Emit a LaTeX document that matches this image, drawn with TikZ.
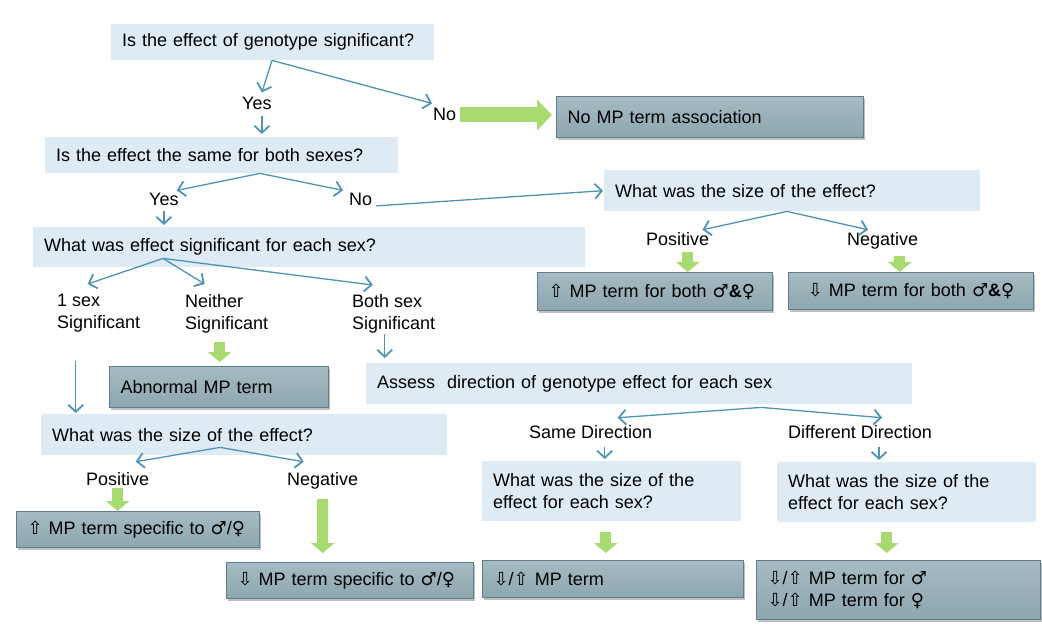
\documentclass[tikz,border=0pt]{standalone}
\usepackage{fontspec}
\setmainfont{Liberation Sans}
\newfontfamily\symfont{DejaVu Sans}
\usetikzlibrary{arrows.meta,positioning,shadows}
\definecolor{qfill}{HTML}{DEEBF5}
\definecolor{atop}{HTML}{A6BBC3}
\definecolor{abot}{HTML}{8DA6AF}
\definecolor{aline}{HTML}{5E7E8B}
\definecolor{flow}{HTML}{4E95B5}
\definecolor{go}{HTML}{A9DA72}
\newcommand{\dfont}{\fontsize{18pt}{22pt}\selectfont}
\newcommand{\upA}{{\symfont ⇧}}
\newcommand{\dnA}{{\symfont ⇩}}
\newcommand{\maleS}{{\symfont ♂}}
\newcommand{\femS}{{\symfont ♀}}
\tikzset{
  >={Straight Barb[length=7pt,width=15pt,line width=1.8pt]},
  box/.style={anchor=north west,inner xsep=11pt,inner ysep=0pt,align=left,font=\dfont},
  qbox/.style={box,fill=qfill},
  abox/.style={box,draw=aline,line width=1.2pt,top color=atop,bottom color=abot,
    drop shadow={shadow xshift=1.5pt,shadow yshift=-2pt,fill=black,opacity=0.25}},
  lab/.style={font=\dfont,align=left,inner sep=1pt},
  arr/.style={->,draw=flow,line width=1.3pt},
  garr/.style={draw=go,line width=11pt,-{Triangle[length=10pt,width=23pt]}},
}

\begin{document}
\begin{tikzpicture}[x=1pt,y=-1pt,
  sz/.style 2 args={text width=#1,minimum height=#2}]
\path[use as bounding box,fill=white] (0,0) rectangle (1042,628);
% questions
\node[qbox,sz={301pt}{36pt}] (q1) at (111,24) {Is the effect of genotype significant?};
\node[qbox,sz={331pt}{36pt}] (q2) at (45,137) {Is the effect the same for both sexes?};
\node[qbox,sz={354pt}{41pt}] (q3) at (604,170) {What was the size of the effect?};
\node[qbox,sz={530pt}{40pt}] (q4) at (33,227) {What was effect significant for each sex?};
\node[qbox,sz={524pt}{41pt}] (as) at (366,363) {Assess~ direction of genotype effect for each sex};
\node[qbox,sz={384pt}{41pt}] (q5) at (41,414) {What was the size of the effect?};
\node[qbox,sz={237pt}{60pt}] (q6) at (482,461) {What was the size of the\\effect for each sex?};
\node[qbox,sz={237pt}{60pt}] (q7) at (777,462) {What was the size of the\\effect for each sex?};
% outcomes
\node[abox,sz={285pt}{41pt}] (nomp) at (556,96) {No MP term association};
\node[abox,sz={213pt}{38pt}] (upb) at (537,272) {\upA\ MP term for both \maleS\textbf{\&}\femS};
\node[abox,sz={223pt}{37pt},align=center] (dnb) at (788,272) {\dnA\ MP term for both \maleS\textbf{\&}\femS};
\node[abox,sz={197pt}{41pt}] (abn) at (109,366) {Abnormal MP term};
\node[abox,sz={221pt}{36pt}] (ups) at (16,511) {\upA\ MP term specific to \maleS/\femS};
\node[abox,sz={225pt}{36pt}] (dns) at (226,562) {\dnA\ MP term specific to \maleS/\femS};
\node[abox,sz={239pt}{37pt}] (mp1) at (482,560) {\dnA/\upA\ MP term};
\node[abox,sz={262pt}{59pt}] (mp2) at (756,560) {\dnA/\upA\ MP term for \maleS\\\dnA/\upA\ MP term for \femS};
% answers
\node[lab,anchor=base west] (yes1) at (241,110) {Yes};
\node[lab,anchor=base west] (no1) at (432,121) {No};
\node[lab,anchor=base west] (yes2) at (148,206) {Yes};
\node[lab,anchor=base west] (no2) at (348,206) {No};
\node[lab,anchor=base west] (pos1) at (645,246) {Positive};
\node[lab,anchor=base west] (neg1) at (846,246) {Negative};
\node[lab,anchor=north west] (one) at (56,293) {1 sex\\Significant};
\node[lab,anchor=north west] (nei) at (184,293) {Neither\\Significant};
\node[lab,anchor=north west] (bth) at (351,293) {Both sex\\Significant};
\node[lab,anchor=base west] (pos2) at (85,485) {Positive};
\node[lab,anchor=base west] (neg2) at (286,485) {Negative};
\node[lab,anchor=base west] (same) at (528,438) {Same Direction};
\node[lab,anchor=base west] (diff) at (787,438) {Different Direction};
% blue flow
\draw[arr] ([xshift=161pt]q1.south west) -- ([xshift=5pt,yshift=4pt]yes1.north);
\draw[arr] ([xshift=161pt]q1.south west) -- ([yshift=4pt]no1.north west);
\draw[arr] ([xshift=5pt,yshift=-5pt]yes1.south) -- ([xshift=5pt,yshift=3pt]yes1.south |- q2.north);
\draw[arr] ([xshift=215pt]q2.south west) -- ([xshift=-3pt,yshift=2pt]yes2.north east);
\draw[arr] ([xshift=215pt]q2.south west) -- ([xshift=-5pt,yshift=2pt]no2.north west);
\draw[arr] ([xshift=3pt,yshift=-6pt]no2.east) -- ([xshift=-1pt]q3.west);
\draw[arr] ([xshift=183pt]q3.south west) -- ([xshift=-8pt,yshift=2pt]pos1.north east);
\draw[arr] ([xshift=183pt]q3.south west) -- ([xshift=22pt,yshift=2pt]neg1.north west);
\draw[arr] ([yshift=-4pt]yes2.south) -- ([yshift=2pt]yes2.south |- q4.north);
\draw[arr] ([xshift=130pt,yshift=9pt]q4.south west) -- ([xshift=-11pt,yshift=9pt]one.north);
\draw[arr] ([xshift=130pt,yshift=9pt]q4.south west) -- ([xshift=-22pt,yshift=9pt]nei.north);
\draw[arr] ([xshift=130pt,yshift=9pt]q4.south west) -- ([xshift=-21pt,yshift=8pt]bth.north);
\draw[arr] ([xshift=-9pt]bth.south) -- ([xshift=-9pt,yshift=5pt]bth.south |- as.north);
\draw[arr] ([xshift=-23pt,yshift=-27pt]one.south) -- ([xshift=-23pt,yshift=1pt]one.south |- q5.north);
\draw[arr] ([xshift=179pt,yshift=8pt]q5.south west) -- ([xshift=18pt,yshift=9pt]pos2.north);
\draw[arr] ([xshift=179pt,yshift=8pt]q5.south west) -- ([xshift=-19pt,yshift=9pt]neg2.north);
\draw[arr] ([xshift=395pt,yshift=-3pt]as.south west) -- ([xshift=27pt,yshift=6pt]same.north);
\draw[arr] ([xshift=395pt,yshift=-3pt]as.south west) -- ([xshift=22pt,yshift=6pt]diff.north);
\draw[arr] ([xshift=14pt,yshift=-8pt]same.south) -- ([xshift=14pt,yshift=2pt]same.south |- q6.north);
\draw[arr] ([xshift=19pt,yshift=-8pt]diff.south) -- ([xshift=19pt,yshift=2pt]diff.south |- q7.north);
% green outcome arrows
\draw[garr,line width=15pt,-{Triangle[length=15pt,width=30pt]}] ([xshift=3pt]no1.east) -- ([xshift=-4pt]no1.east -| nomp.west);
\draw[garr] ([xshift=10pt,yshift=-5pt]pos1.south) -- ([xshift=10pt]pos1.south |- upb.north);
\draw[garr] ([xshift=17pt,yshift=-5pt]neg1.south) -- ([xshift=17pt]neg1.south |- dnb.north);
\draw[garr] ([xshift=-7pt,yshift=-8pt]nei.south) -- ([xshift=-7pt,yshift=4pt]nei.south |- abn.north);
\draw[garr] ([yshift=-2pt]pos2.south) -- (pos2.south |- ups.north);
\draw[garr] ([yshift=-9pt]neg2.south) -- ([yshift=9pt]neg2.south |- dns.north);
\draw[garr] ([xshift=-6pt,yshift=-11pt]q6.south) -- ([xshift=-6pt,yshift=7pt]q6.south |- mp1.north);
\draw[garr] ([xshift=-20pt,yshift=-10pt]q7.south) -- ([xshift=-20pt,yshift=7pt]q7.south |- mp2.north);
\end{tikzpicture}
\end{document}
